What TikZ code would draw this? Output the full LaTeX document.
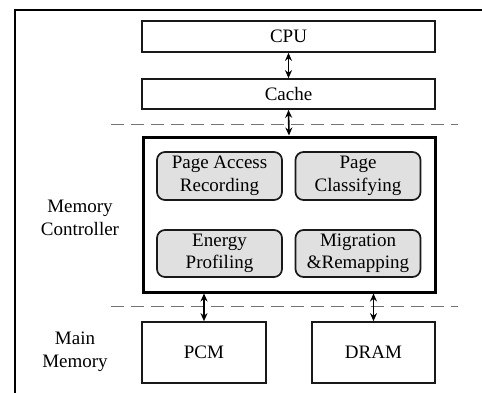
\documentclass[tikz,border=0pt]{standalone}
\usepackage{fontspec}
\setmainfont{Liberation Serif}
\usetikzlibrary{arrows.meta}
\begin{document}
\begin{tikzpicture}[x=1pt,y=-1pt,
  txt/.style={font=\fontsize{19}{22.5}\selectfont, text=black, align=center, inner sep=0pt},
  plainbox/.style={txt, draw=black!90, line width=1.7pt, fill=white},
  modbox/.style={txt, draw=black!90, line width=1.7pt, fill=black!12, rounded corners=8pt, minimum width=125pt, minimum height=48pt},
  dbl/.style={{Stealth[length=8pt,width=7pt]}-{Stealth[length=8pt,width=7pt]}, line width=1.6pt, draw=black},
  sep/.style={draw=black!55, line width=1pt, dash pattern=on 13pt off 7pt}]
\useasboundingbox (0,0) rectangle (482,392);
\fill[white] (0,0) rectangle (482,392);
% outer frame (only top and left visible)
\draw[line width=2.6pt, black] (15,393) -- (15,10) -- (483,10);
% dashed separators
\coordinate (d1a) at (111,124); \coordinate (d1b) at (458,124);
\coordinate (d2a) at (111,306); \coordinate (d2b) at (458,306);
\draw[sep] (d1a) -- (d1b);
\draw[sep] (d2a) -- (d2b);
% top boxes
\node[plainbox, minimum width=293pt, minimum height=31pt] (cpu) at (288.5,36.5) {CPU};
\node[plainbox, minimum width=293pt, minimum height=30pt] (cache) at (288.5,94) {Cache};
% controller
\node[draw=black, line width=3pt, fill=white, minimum width=292pt, minimum height=155pt, inner sep=0pt] (ctrl) at (289,214.5) {};
\node[modbox] (par) at (219.5,176) {Page Access\\Recording};
\node[modbox] (pc) at (358,176) {Page\\Classifying};
\node[modbox, minimum height=47pt] (ep) at (219.5,253.5) {Energy\\Profiling};
\node[modbox, minimum height=47pt] (mr) at (358,253.5) {Migration\\\&Remapping};
% memories
\node[plainbox, minimum width=124pt, minimum height=61pt] (pcm) at (204,352.5) {PCM};
\node[plainbox, minimum width=123pt, minimum height=61pt] (dram) at (373.5,352.5) {DRAM};
% side labels
\node[txt] (lmc) at (80,218) {Memory\\Controller};
\node[txt] (lmm) at (75,352) {Main\\Memory};
% connectors
\draw[dbl] (cpu.south) -- (cache.north);
\draw[dbl] (cache.south) -- (ctrl.north);
\draw[dbl] (ctrl.south -| pcm.north) -- (pcm.north);
\draw[dbl] (ctrl.south -| dram.north) -- (dram.north);
\end{tikzpicture}
\end{document}
